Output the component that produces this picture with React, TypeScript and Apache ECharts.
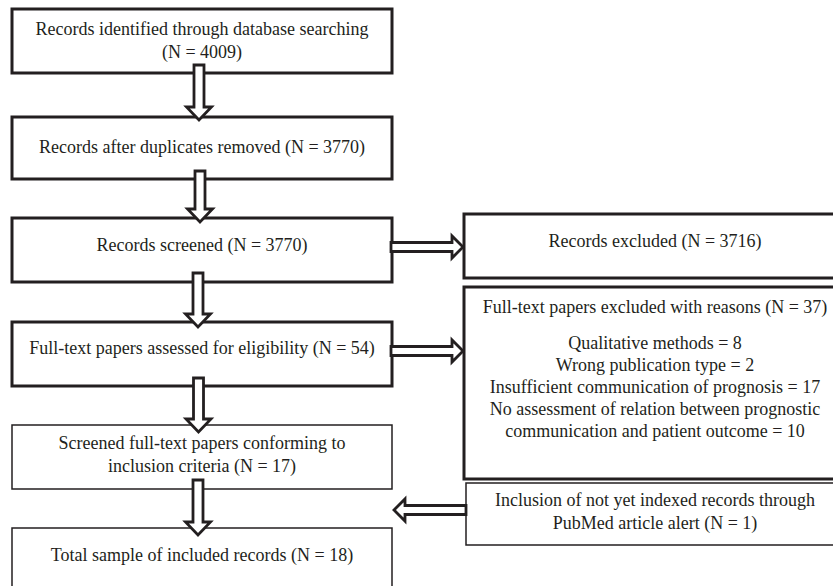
import React, { useEffect, useRef } from "react";
import * as echarts from "echarts";

// ---- Data (texts and counts of the flow diagram) ----
const mainSteps: string[][] = [
  ["Records identified through database searching", "(N = 4009)"],
  ["Records after duplicates removed (N = 3770)"],
  ["Records screened (N = 3770)"],
  ["Full-text papers assessed for eligibility (N = 54)"],
  ["Screened full-text papers conforming to", "inclusion criteria (N = 17)"],
  ["Total sample of included records (N = 18)"],
];
const excludedRecords = "Records excluded (N = 3716)";
const fullTextExcludedTitle = "Full-text papers excluded with reasons (N = 37)";
const exclusionReasons = [
  "Qualitative methods",
  "Wrong publication type",
  "Insufficient communication of prognosis",
  "No assessment of relation between prognostic\ncommunication and patient outcome",
];
const exclusionCounts = [8, 2, 17, 10];
const addedRecords = ["Inclusion of not yet indexed records through", "PubMed article alert (N = 1)"];

// ---- Layout ----
const INK = "#231f20";

const mainBoxes = [
  { y: 9, h: 64, lw: 3, ty: [29, 52] },
  { y: 117, h: 62, lw: 3, ty: [147] },
  { y: 218, h: 64, lw: 3, ty: [245] },
  { y: 322, h: 64, lw: 3, ty: [348] },
  { y: 425, h: 64, lw: 1.5, ty: [443, 466] },
  { y: 528, h: 90, lw: 1.5, ty: [555] },
];
const MAIN_X = 12;
const MAIN_W = 380;
const MAIN_CX = 202;
const RIGHT_CX = 655;

function box(x: number, y: number, w: number, h: number, lw: number) {
  return {
    type: "rect",
    shape: { x, y, width: w, height: h },
    style: { fill: "#fff", stroke: INK, lineWidth: lw },
    z: 1,
  };
}

function label(text: string, x: number, y: number) {
  return {
    type: "text",
    x,
    y,
    style: {
      text,
      fontFamily: "Liberation Serif",
      fontSize: 18,
      fill: INK,
      align: "center",
      verticalAlign: "middle",
    },
    z: 3,
  };
}

function downArrow(cx: number, y0: number, y1: number) {
  const hw = 5, hh = 12.5, hl = 13;
  const b = y1 - hl;
  return {
    type: "polygon",
    shape: {
      points: [
        [cx - hw, y0], [cx + hw, y0], [cx + hw, b], [cx + hh, b],
        [cx, y1], [cx - hh, b], [cx - hw, b],
      ],
    },
    style: { fill: "#fff", stroke: INK, lineWidth: 2.8, lineJoin: "miter" },
    z: 2,
  };
}

function hArrow(x0: number, x1: number, cy: number) {
  const hw = 4.5, hh = 11, hl = 11;
  const dir = x1 > x0 ? 1 : -1;
  const b = x1 - dir * hl;
  return {
    type: "polygon",
    shape: {
      points: [
        [x0, cy - hw], [b, cy - hw], [b, cy - hh], [x1, cy],
        [b, cy + hh], [b, cy + hw], [x0, cy + hw],
      ],
    },
    style: { fill: "#fff", stroke: INK, lineWidth: 2.8, lineJoin: "miter" },
    z: 2,
  };
}

export default function App() {
  const ref = useRef<HTMLDivElement>(null);

  useEffect(() => {
    if (!ref.current) return;
    const chart = echarts.init(ref.current, undefined, { renderer: "svg" });

    const elements: any[] = [];

    // main column boxes
    mainBoxes.forEach((b, i) => {
      elements.push(box(MAIN_X, b.y, MAIN_W, b.h, b.lw));
      mainSteps[i].forEach((t, j) => elements.push(label(t, MAIN_CX, b.ty[j])));
    });

    // right boxes
    elements.push(box(464, 214, 400, 64, 3));
    elements.push(label(excludedRecords, RIGHT_CX, 241));

    elements.push(box(464, 287, 400, 192, 3));
    elements.push(label(fullTextExcludedTitle, RIGHT_CX, 307));
    const reasonLines: string[] = [];
    exclusionReasons.forEach((r, i) => {
      const parts = r.split("\n");
      parts[parts.length - 1] = parts[parts.length - 1] + " = " + exclusionCounts[i];
      parts.forEach((p) => reasonLines.push(p));
    });
    reasonLines.forEach((t, j) => elements.push(label(t, RIGHT_CX, 343 + j * 22)));

    elements.push(box(466, 483, 400, 62, 1.5));
    addedRecords.forEach((t, j) => elements.push(label(t, RIGHT_CX, 500 + j * 23)));

    // arrows
    elements.push(downArrow(199, 65, 120));
    elements.push(downArrow(200, 171, 222));
    elements.push(downArrow(198, 273, 327));
    elements.push(downArrow(198.5, 378, 432));
    elements.push(downArrow(198, 480, 535));
    elements.push(hArrow(391, 463, 247));
    elements.push(hArrow(391, 463, 351));
    elements.push(hArrow(466, 394, 510));

    chart.setOption({
      animation: false,
      backgroundColor: "#fff",
      graphic: { elements },
    });

    return () => chart.dispose();
  }, []);

  return (
    <div
      ref={ref}
      style={{ position: "fixed", left: 0, top: 0, width: 833, height: 586, background: "#fff" }}
    />
  );
}
